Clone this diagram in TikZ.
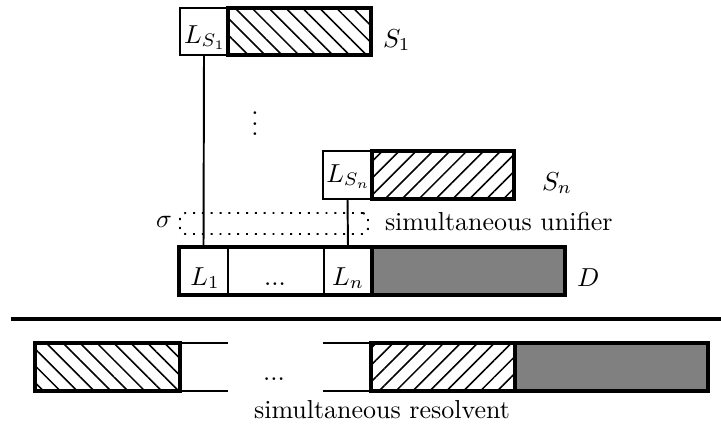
\documentclass[tikz,border=0pt]{standalone}
\usetikzlibrary{patterns.meta}
\begin{document}
\begin{tikzpicture}[x=0.385pt,y=-0.385pt,
  every node/.style={outer sep=0pt},
  wd/.style={minimum width=#1*0.385pt},
  ht/.style={minimum height=#1*0.385pt},
  thinln/.style={line width=0.75pt},
  thickln/.style={line width=1.25pt},
  lcell/.style={draw, line width=0.95pt, inner sep=0pt},
  icell/.style={draw, thinln, inner sep=0pt},
  hatchL/.style={draw, thickln, inner sep=0pt, pattern={Lines[angle=-45,distance=4.6pt,line width=0.6pt]}},
  hatchR/.style={draw, thickln, inner sep=0pt, pattern={Lines[angle=45,distance=4.6pt,line width=0.6pt]}},
  graybox/.style={draw, thickln, inner sep=0pt, fill=gray},
  dotbox/.style={draw, line width=0.75pt, dash pattern=on 0.75pt off 2.65pt, rounded corners=2pt, inner sep=0pt},
  txt/.style={inner sep=0pt, anchor=base},
  txtw/.style={inner sep=0pt, anchor=base west}
]
\useasboundingbox (0,0) rectangle (721,432);

% S_1 row
\node[lcell, wd=48, ht=47] (LS1) at (204,31.5) {};
\node[hatchL, wd=143, ht=47] (H1) at (299.5,31.5) {};
\node[txt] (LS1t) at (205,43) {$L_{S_1}$};
\node[txtw] (S1t) at (383,47) {$S_1$};

% vertical dots
\node[inner sep=0pt] (vd) at (255,116) {$\vdots$};

% S_n row
\node[lcell, wd=49, ht=48] (LSn) at (347.5,175) {};
\node[hatchR, wd=142, ht=48] (Hn) at (443,175) {};
\node[txt] (LSnt) at (348.5,182) {$L_{S_n}$};
\node[txtw] (Snt) at (542,190) {$S_n$};

% D row
\node[icell, wd=49, ht=48] (L1) at (203.5,271) {};
\node[icell, wd=96, ht=48] (Ldots) at (276,271) {};
\node[icell, wd=48, ht=48] (Ln) at (348,271) {};
\node[graybox, wd=193, ht=48] (Dg) at (468.5,271) {};
\draw[thickln] (L1.north west) rectangle (Dg.south east);
\node[txt] (L1t) at (205,285) {$L_1$};
\node[txt] (Ldt) at (275,285) {...};
\node[txt] (Lnt) at (348,285) {$L_n$};
\node[txtw] (Dt) at (577,286) {$D$};

% connectors
\draw[thinln] (LS1.south) -- (L1.north);
\draw[thinln] (LSn.south) -- (Ln.north);

% unifier
\node[dotbox, wd=188, ht=21] (sig) at (274,223.5) {};
\node[txt] (sigt) at (164,227) {$\sigma$};
\node[txtw] (unif) at (385,230) {simultaneous unifier};

% rule
\coordinate (r1) at (11,319);
\coordinate (r2) at (721,319);
\draw[thickln] (r1) -- (r2);

% resolvent row
\node[hatchL, wd=145, ht=48] (B1) at (107.5,367) {};
\coordinate (a1) at (228,343);
\coordinate (a2) at (228,391);
\draw[thinln] (B1.north east) -- (a1);
\draw[thinln] (B1.south east) -- (a2);
\node[hatchR, wd=144, ht=48] (B2) at (443,367) {};
\node[graybox, wd=193, ht=48] (Bg) at (611.5,367) {};
\coordinate (b1) at (323,343);
\coordinate (b2) at (323,391);
\draw[thinln] (b1) -- (B2.north west);
\draw[thinln] (b2) -- (B2.south west);
\node[txt] (Bdt) at (274,380) {...};
\node[txt] (res) at (382,418) {simultaneous resolvent};
\end{tikzpicture}
\end{document}
